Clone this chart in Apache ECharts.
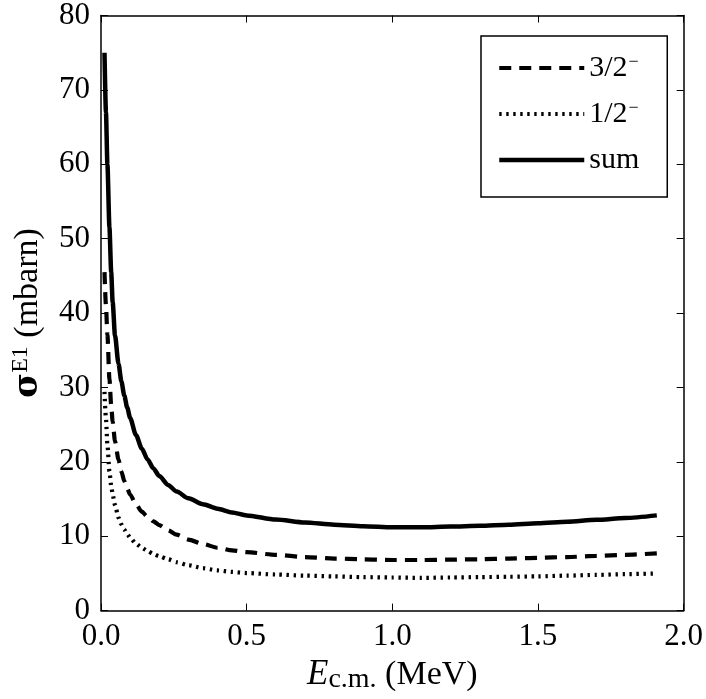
<!DOCTYPE html>
<html>
<head>
<meta charset="utf-8">
<script src="https://cdn.jsdelivr.net/npm/echarts@6/dist/echarts.min.js"></script>
<style>
html,body{margin:0;padding:0;background:#fff;}
#chart{width:706px;height:699px;}
</style>
</head>
<body>
<div id="chart"></div>
<script>
// Energy grid (MeV)
const energy = [0.012, 0.017, 0.022, 0.029, 0.035, 0.04, 0.048, 0.06, 0.07, 0.08, 0.09, 0.1, 0.12, 0.14, 0.16, 0.18, 0.2, 0.23, 0.26, 0.3, 0.35, 0.4, 0.45, 0.5, 0.6, 0.7, 0.8, 0.9, 1.0, 1.1, 1.2, 1.3, 1.4, 1.5, 1.6, 1.7, 1.8, 1.908];
// sigma E1 (mbarn)
const sigma32 = [45.5, 41.0, 37.1, 31.1, 27.6, 25.4, 22.8, 20.3, 18.7, 17.4, 16.4, 15.6, 14.3, 13.3, 12.6, 12.0, 11.5, 10.8, 10.2, 9.55, 8.95, 8.45, 8.1, 7.85, 7.5, 7.2, 7.0, 6.9, 6.8, 6.8, 6.85, 6.9, 7.0, 7.1, 7.2, 7.35, 7.5, 7.7];
const sigma12 = [29.4, 25.8, 22.3, 18.7, 16.8, 15.6, 14.2, 12.5, 11.6, 10.9, 10.3, 9.8, 9.0, 8.45, 8.0, 7.6, 7.3, 6.9, 6.5, 6.1, 5.7, 5.4, 5.2, 5.05, 4.85, 4.7, 4.6, 4.5, 4.45, 4.4, 4.45, 4.5, 4.55, 4.6, 4.7, 4.8, 4.9, 5.0];
const sigmaSum = [75.0, 67.0, 60.0, 51.5, 45.5, 41.5, 37.0, 33.2, 30.8, 28.9, 27.3, 25.9, 23.6, 21.8, 20.3, 19.1, 18.1, 16.9, 16.0, 15.1, 14.3, 13.7, 13.2, 12.8, 12.25, 11.85, 11.55, 11.35, 11.2, 11.2, 11.3, 11.4, 11.55, 11.75, 11.95, 12.2, 12.45, 12.8];
const seriesNames = ['3/2−', '1/2−', 'sum'];
const xTicks = {min: 0, max: 2.0, interval: 0.5};
const yTicks = {min: 0, max: 80, interval: 10};

const pairs = arr => energy.map((e, i) => [e, arr[i]]);
const FONT = '"Liberation Serif", "Times New Roman", serif';

const styles = {
  dash: {color: '#000', width: 4.2, type: [12, 8]},
  dot: {color: '#000', width: 4.2, type: [2.4, 4.6]},
  solid: {color: '#000', width: 4.5, type: 'solid'}
};

const chart = echarts.init(document.getElementById('chart'), null, {renderer: 'canvas'});

const axisCommon = {
  axisLine: {show: true, onZero: false, lineStyle: {color: '#000', width: 1.5}},
  axisTick: {show: true, inside: true, length: 7, lineStyle: {color: '#000', width: 1}},
  splitLine: {show: false}
};

const numRich = {n: {fontFamily: FONT, fontSize: 31, color: '#000'}};

const legendFmt = name => {
  if (name === 'sum') return '{t|sum}';
  const base = name.replace('−', '');
  return '{t|' + base + '}{sup|−}';
};

chart.setOption({
  animation: false,
  backgroundColor: '#fff',
  grid: {left: 101, top: 15, right: 22, bottom: 81, containLabel: false},
  legend: {
    show: true,
    left: 481, top: 36,
    orient: 'vertical',
    data: [
      {name: seriesNames[0], lineStyle: styles.dash},
      {name: seriesNames[1], lineStyle: styles.dot},
      {name: seriesNames[2], lineStyle: styles.solid}
    ],
    itemWidth: 85, itemHeight: 14, itemGap: 14,
    padding: [17, 28, 22, 16],
    borderColor: '#000', borderWidth: 1.5,
    backgroundColor: '#fff',
    itemStyle: {opacity: 0},
    formatter: legendFmt,
    textStyle: {
      color: '#000', fontFamily: FONT, fontSize: 30,
      rich: {
        t: {fontFamily: FONT, fontSize: 30, color: '#000', lineHeight: 30},
        sup: {fontFamily: FONT, fontSize: 18, color: '#000', verticalAlign: 'top', lineHeight: 30, padding: [0, 0, 14, 1]}
      }
    }
  },
  xAxis: [
    Object.assign({
      type: 'value', position: 'bottom',
      min: xTicks.min, max: xTicks.max, interval: xTicks.interval,
      axisLabel: {show: true, color: '#000', fontFamily: FONT, fontSize: 31, margin: 11,
        formatter: v => '{n|' + v.toFixed(1) + '}', rich: numRich},
      name: '{i|E}{sub|c.m.}{t| (MeV)}',
      nameLocation: 'middle', nameGap: 43,
      nameTextStyle: {
        color: '#000', fontFamily: FONT,
        rich: {
          i: {fontFamily: FONT, fontStyle: 'italic', fontSize: 35, color: '#000'},
          sub: {fontFamily: FONT, fontSize: 28, color: '#000', verticalAlign: 'bottom', padding: [10, 0, 0, 0]},
          t: {fontFamily: FONT, fontSize: 34, color: '#000'}
        }
      }
    }, axisCommon),
    Object.assign({
      type: 'value', position: 'top',
      min: xTicks.min, max: xTicks.max, interval: xTicks.interval,
      axisLabel: {show: false}
    }, axisCommon)
  ],
  yAxis: [
    Object.assign({
      type: 'value', position: 'left',
      min: yTicks.min, max: yTicks.max, interval: yTicks.interval,
      axisLabel: {show: true, color: '#000', fontFamily: FONT, fontSize: 31, margin: 11,
        formatter: v => '{n|' + v + '}', rich: numRich},
      name: '{s|σ}{sup|E1}{t| (mbarn)}',
      nameLocation: 'middle', nameGap: 54, nameRotate: 90,
      nameTextStyle: {
        color: '#000', fontFamily: FONT,
        rich: {
          s: {fontFamily: '"DejaVu Serif", serif', fontWeight: 'bold', fontSize: 34, color: '#000'},
          sup: {fontFamily: FONT, fontSize: 24, color: '#000', verticalAlign: 'top', padding: [0, 0, 14, 0]},
          t: {fontFamily: FONT, fontSize: 34, color: '#000'}
        }
      }
    }, axisCommon),
    Object.assign({
      type: 'value', position: 'right',
      min: yTicks.min, max: yTicks.max, interval: yTicks.interval,
      axisLabel: {show: false}
    }, axisCommon)
  ],
  series: [
    {
      name: seriesNames[0], type: 'line', xAxisIndex: 0, yAxisIndex: 0,
      data: pairs(sigma32), smooth: 0.25, smoothMonotone: 'x', symbol: 'none',
      itemStyle: {color: '#000'},
      lineStyle: styles.dash
    },
    {
      name: seriesNames[1], type: 'line', xAxisIndex: 0, yAxisIndex: 0,
      data: pairs(sigma12), smooth: 0.25, smoothMonotone: 'x', symbol: 'none',
      itemStyle: {color: '#000'},
      lineStyle: styles.dot
    },
    {
      name: seriesNames[2], type: 'line', xAxisIndex: 0, yAxisIndex: 0,
      data: pairs(sigmaSum), smooth: 0.25, smoothMonotone: 'x', symbol: 'none',
      itemStyle: {color: '#000'},
      lineStyle: styles.solid
    }
  ]
});
</script>
</body>
</html>
